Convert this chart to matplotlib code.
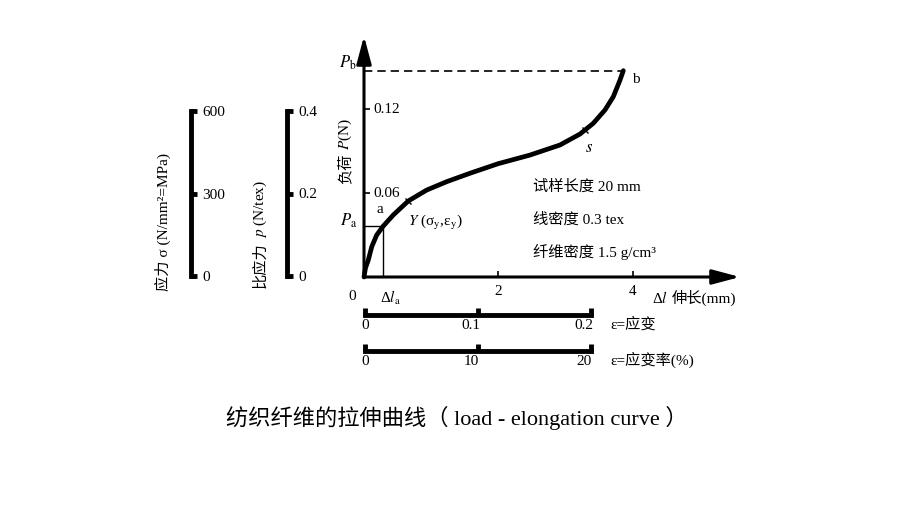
import matplotlib
matplotlib.use('Agg')
import matplotlib.pyplot as plt
from matplotlib.transforms import IdentityTransform

plt.rcParams['font.family'] = ['Liberation Serif', 'Noto Sans CJK SC']
plt.rcParams['mathtext.fontset'] = 'stix'
plt.rcParams['font.size'] = 11

# 拉伸曲线 (伸长 mm, 负荷 N)
elong = [0, 0.022, 0.064, 0.115, 0.189, 0.287, 0.436, 0.659, 0.933, 1.231, 1.577, 1.994,
         2.470, 2.917, 3.214, 3.289, 3.412, 3.586, 3.710, 3.810, 3.859]
load = [0, 0.0064, 0.0121, 0.0216, 0.030, 0.0364, 0.0443, 0.0543, 0.0621, 0.0681, 0.0741, 0.0809,
        0.0871, 0.0943, 0.1021, 0.105, 0.1098, 0.1193, 0.1288, 0.1407, 0.1474]
i_a = 5
i_yield = 7
i_s = 15

x_ticks = [2, 4]
x_tick_labels = ['2', '4']
y_ticks = [0.06, 0.12]
y_tick_labels = ['0.06', '0.12']

stress_ticks = [0, 300, 600]
stress_labels = ['0', '300', '600']
spec_ticks = [0, 0.2, 0.4]
spec_labels = ['0', '0.2', '0.4']
strain_ticks = [0, 0.1, 0.2]
strain_labels = ['0', '0.1', '0.2']
strain_pct_ticks = [0, 10, 20]
strain_pct_labels = ['0', '10', '20']

info = ['试样长度 20 mm', '线密度 0.3 tex', '纤维密度 1.5 g/cm³']
info_y = [0.0643, 0.0407, 0.0179]

W, H = 920, 518


def box(x0, y0, x1, y1):
    # pixel box (top-left origin) -> figure fraction
    return [x0 / W, 1 - y1 / H, (x1 - x0) / W, (y1 - y0) / H]


fig = plt.figure(figsize=(9.2, 5.18), dpi=100)
renderer = fig.canvas.get_renderer()


def chain(pieces, x, y, rotation=0, gap=4, **kw):
    # put text pieces one after another (so CJK and mathtext stay in separate objects)
    x, y = x, H - y
    for s in pieces:
        if rotation == 90:
            t = fig.text(x, y, s, transform=IdentityTransform(), rotation=90, ha='center', va='bottom', **kw)
            y = t.get_window_extent(renderer).y1 + gap
        else:
            t = fig.text(x, y, s, transform=IdentityTransform(), ha='left', va='center', **kw)
            x = t.get_window_extent(renderer).x1 + gap


# main load-elongation axes
ax = fig.add_axes(box(364, 36, 740, 277))
ax.set_xlim(0, 376 / 67.2)
ax.set_ylim(0, 241 / 1400)
ax.patch.set_visible(False)
for sp in ax.spines.values():
    sp.set_visible(False)
arrow = dict(arrowstyle='-|>,head_length=1.2,head_width=0.32', lw=2.2, color='k',
             shrinkA=0, shrinkB=0, mutation_scale=14)
ax.annotate('', xy=(1, 0), xytext=(0, 0), xycoords='axes fraction', arrowprops=arrow)
ax.annotate('', xy=(0, 1), xytext=(0, 0), xycoords='axes fraction', arrowprops=arrow)

ax.set_xticks(x_ticks)
ax.set_xticklabels(x_tick_labels)
ax.tick_params(axis='x', direction='in', length=4, width=1.2, pad=6)
ax.set_yticks(y_ticks)
ax.set_yticklabels([])
ax.tick_params(axis='y', direction='in', length=4, width=1.2)
for v, lab in zip(y_ticks, y_tick_labels):
    ax.annotate(lab, xy=(0, v), xytext=(9, 0), textcoords='offset pixels', ha='left', va='center')

ax.plot(elong, load, color='k', lw=3.4, solid_capstyle='round', solid_joinstyle='round', clip_on=False)
ax.plot([elong[i_yield], elong[i_s]], [load[i_yield], load[i_s]], 'x', color='k', ms=5, mew=1)
p_a = load[i_a]
delta_la = elong[i_a]
p_b = load[-1]
ax.plot([0, delta_la, delta_la], [p_a, p_a, 0], color='k', lw=1)
ax.plot([0, elong[-1]], [p_b, p_b], color='k', lw=1.2, ls=(0, (5, 3)))

ax.annotate(r'$P_\mathrm{b}$', xy=(0, p_b), xytext=(-7, 8), textcoords='offset pixels',
            ha='right', va='center', fontsize=12)
ax.annotate(r'$P_\mathrm{a}$', xy=(0, p_a), xytext=(-7, 5), textcoords='offset pixels',
            ha='right', va='center', fontsize=12)
ax.annotate('a', xy=(delta_la, p_a), xytext=(-3, 17), textcoords='offset pixels', ha='center', va='center')
ax.annotate(r'$Y$ (σ$_\mathrm{y}$,ε$_\mathrm{y}$)', xy=(elong[i_yield], load[i_yield]), xytext=(0, -22),
            textcoords='offset pixels', ha='left', va='center')
ax.annotate(r'$s$', xy=(elong[i_s], load[i_s]), xytext=(4, -18), textcoords='offset pixels',
            ha='center', va='center', fontsize=12)
ax.annotate('b', xy=(elong[-1], load[-1]), xytext=(13, -9), textcoords='offset pixels', ha='center', va='center')
ax.annotate('0', xy=(0, 0), xytext=(-12, -19), textcoords='offset pixels', ha='center', va='center')
ax.annotate(r'Δ$l_\mathrm{a}$', xy=(delta_la, 0), xytext=(7, -21), textcoords='offset pixels',
            ha='center', va='center')
for t, yv in zip(info, info_y):
    ax.text(2.515, yv, t, ha='left', va='center')
chain([r'Δ$l$', '伸长(mm)'], 652, 298)
chain(['负荷', r'$P$(N)'], 345, 184, rotation=90)


def vbar(x, ticks, labels):
    b = fig.add_axes(box(x, 111, x + 0.5, 276))
    b.patch.set_visible(False)
    for k, sp in b.spines.items():
        sp.set_visible(k == 'right')
    b.spines['right'].set_linewidth(3.5)
    b.set_ylim(ticks[0], ticks[-1])
    b.set_xticks([])
    b.yaxis.tick_right()
    b.set_yticks(ticks)
    b.set_yticklabels(labels)
    b.tick_params(axis='y', direction='out', length=4, width=3.5, pad=4)
    return b


def hbar(y, ticks, labels):
    b = fig.add_axes(box(365, y - 0.5, 591, y))
    b.patch.set_visible(False)
    for k, sp in b.spines.items():
        sp.set_visible(k == 'bottom')
    b.spines['bottom'].set_linewidth(3.5)
    b.set_xlim(ticks[0], ticks[-1])
    b.set_yticks([])
    b.set_xticks(ticks)
    b.set_xticklabels([])
    b.tick_params(axis='x', direction='in', length=5, width=3.5)
    for i, (v, lab) in enumerate(zip(ticks, labels)):
        dx = 0 if i == 0 else -7
        b.annotate(lab, xy=(v, 0), xycoords=('data', 'axes fraction'), xytext=(dx, -4),
                   textcoords='offset pixels', ha='center', va='top')
    return b


vbar(191, stress_ticks, stress_labels)
vbar(287, spec_ticks, spec_labels)
fig.text(163 / W, 1 - 291 / H, '应力 σ (N/mm²=MPa)', rotation=90, ha='center', va='bottom')
chain(['比应力', r'$p$ (N/tex)'], 260, 288, rotation=90)

hbar(315, strain_ticks, strain_labels)
hbar(351, strain_pct_ticks, strain_pct_labels)
fig.text(610 / W, 1 - 324 / H, 'ε=应变', ha='left', va='center')
fig.text(610 / W, 1 - 360 / H, 'ε=应变率(%)', ha='left', va='center')

fig.text(457 / W, 1 - 418 / H, '纺织纤维的拉伸曲线（ load - elongation curve ）', fontsize=16,
         ha='center', va='center')

fig.savefig('out.png', dpi=100)
